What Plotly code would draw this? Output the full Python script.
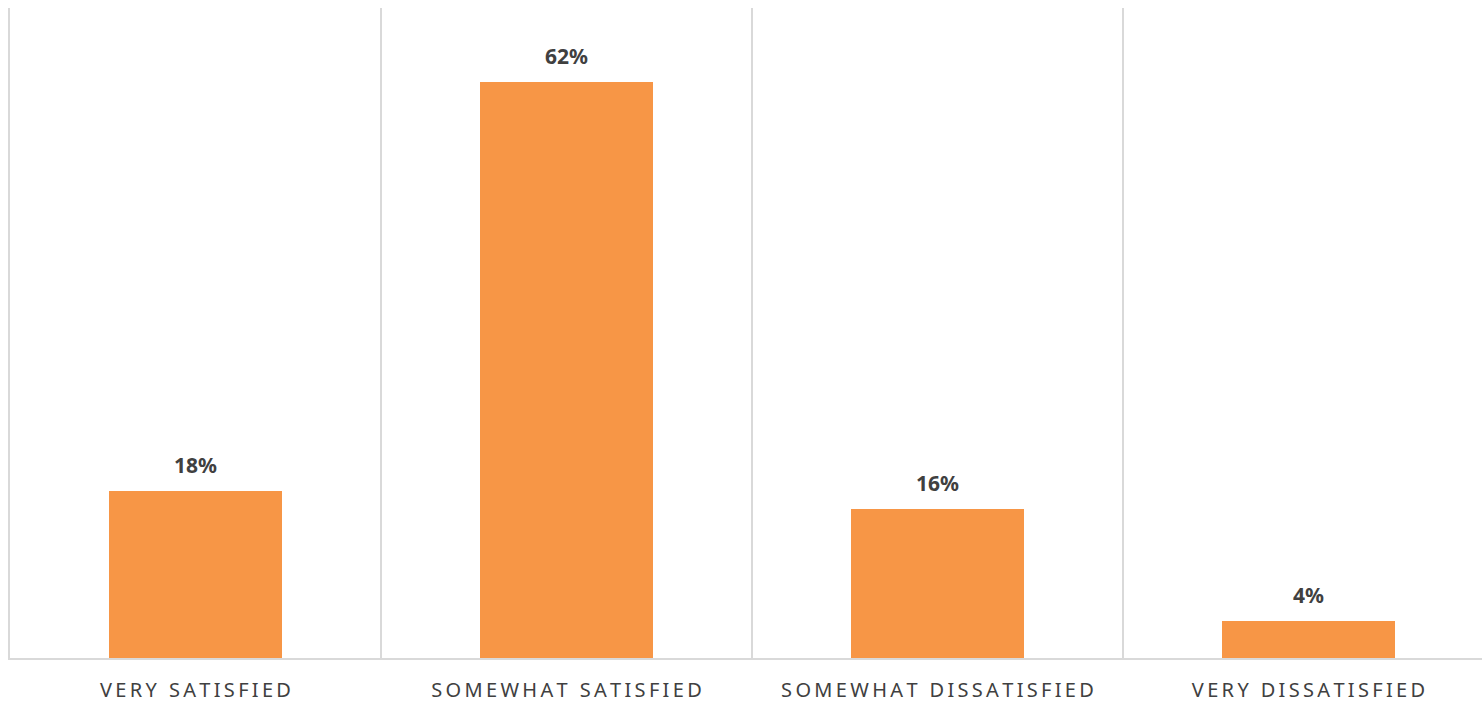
import plotly.graph_objects as go

categories = ["VERY SATISFIED", "SOMEWHAT SATISFIED", "SOMEWHAT DISSATISFIED", "VERY DISSATISFIED"]
shares = [18, 62, 16, 4]

BAR_COLOR = "#F79646"
TEXT_COLOR = "#404040"
GRID_COLOR = "#D9D9D9"
FONT = "Noto Sans, Open Sans, sans-serif"


def spaced(label):
    # widen the tracking of the category captions
    return "\u2009".join(label).replace("\u2009 \u2009", "\u2002\u200a")


fig = go.Figure()
fig.add_trace(go.Bar(
    x=categories,
    y=shares,
    width=0.466,
    marker=dict(color=BAR_COLOR, line=dict(width=0)),
    hoverinfo="skip",
))

for cat, v in zip(categories, shares):
    fig.add_annotation(
        x=cat, y=v, text=f"<b>{v}%</b>", showarrow=False,
        yanchor="bottom", yshift=10,
        font=dict(family=FONT, size=21, color=TEXT_COLOR),
    )

fig.update_layout(
    width=1482, height=702,
    margin=dict(l=10, r=0, t=8, b=44),
    paper_bgcolor="white", plot_bgcolor="white",
    showlegend=False,
    bargap=0,
)

fig.update_xaxes(
    type="category",
    range=[-0.5, 3.4677],
    tickmode="array",
    tickvals=categories,
    ticktext=[spaced(c) for c in categories],
    tickson="boundaries",
    showgrid=True, gridcolor=GRID_COLOR, gridwidth=2,
    ticks="", ticklabelstandoff=13,
    showline=True, linecolor=GRID_COLOR, linewidth=2,
    tickfont=dict(family=FONT, size=20, color=TEXT_COLOR),
    zeroline=False, fixedrange=True,
)
fig.update_yaxes(
    range=[0, 70],
    showgrid=False, showticklabels=False, ticks="",
    showline=True, linecolor=GRID_COLOR, linewidth=2,
    zeroline=False, fixedrange=True,
)

fig.write_html("out.html")
